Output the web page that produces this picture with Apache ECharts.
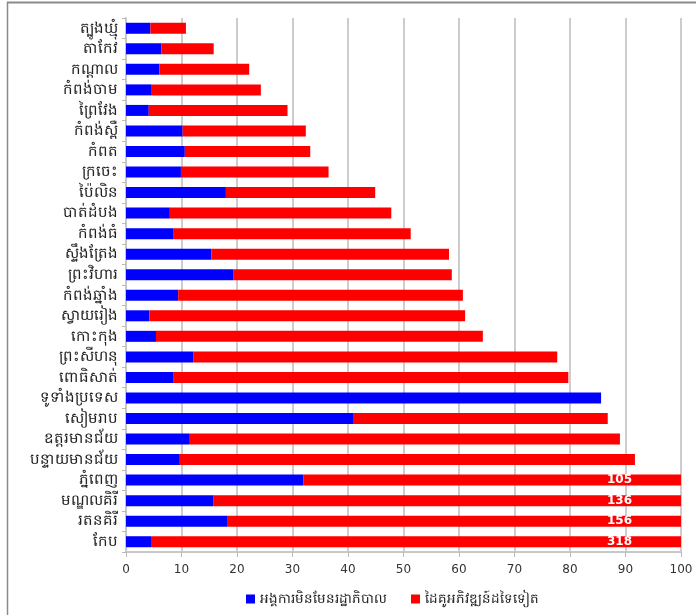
<!DOCTYPE html>
<html>
<head>
<meta charset="utf-8">
<script src="https://cdn.jsdelivr.net/npm/echarts@6/dist/echarts.min.js"></script>
<style>
html,body{margin:0;padding:0;background:#fff;}
#c{width:696px;height:615px;}
</style>
</head>
<body>
<div id="c"></div>
<script>
const categories = ['ត្បូងឃ្មុំ','តាកែវ','កណ្ដាល','កំពង់ចាម','ព្រៃវែង','កំពង់ស្ពឺ','កំពត','ក្រចេះ','ប៉ៃលិន','បាត់ដំបង','កំពង់ធំ','ស្ទឹងត្រែង','ព្រះវិហារ','កំពង់ឆ្នាំង','ស្វាយរៀង','កោះកុង','ព្រះសីហនុ','ពោធិសាត់','ទូទាំងប្រទេស','សៀមរាប','ឧត្ដរមានជ័យ','បន្ទាយមានជ័យ','ភ្នំពេញ','មណ្ឌលគិរី','រតនគិរី','កែប'];
const ngoValues = [4.4,6.4,6.0,4.5,4.1,10.2,10.6,9.9,18.0,7.9,8.6,15.4,19.3,9.4,4.2,5.4,12.1,8.6,85.6,40.9,11.5,9.7,32.0,15.8,18.2,4.5];
const otherValues = [6.4,9.4,16.2,19.8,25.0,22.2,22.6,26.6,26.9,39.9,42.7,42.8,39.4,51.3,56.9,58.9,65.6,71.1,0,45.9,77.5,82.0,73.0,120.2,137.8,313.5];
const totalLabels = [null,null,null,null,null,null,null,null,null,null,null,null,null,null,null,null,null,null,null,null,null,null,'105','136','156','318'];
const xTicks = {min:0,max:100,interval:10};
const seriesNames = ['អង្គការមិនមែនរដ្ឋាភិបាល','ដៃគូអភិវឌ្ឍន៍ដទៃទៀត'];

const chart = echarts.init(document.getElementById('c'), null, {renderer:'canvas'});
const fontFam = '"Noto Sans", "DejaVu Sans", sans-serif';
const redData = otherValues.map((v,i)=> totalLabels[i] ? {
  value: v,
  label: {show:true, position:'insideRight', distance:49, formatter: totalLabels[i], color:'#fff', fontWeight:'bold', fontSize:12, fontFamily:'"DejaVu Sans", sans-serif'}
} : v);

chart.setOption({
  animation:false,
  backgroundColor:'#fff',
  textStyle:{fontFamily:fontFam},
  graphic:[
    {type:'line', shape:{x1:7,y1:2.5,x2:696,y2:2.5}, style:{stroke:'#8a8a8a', lineWidth:2}},
    {type:'line', shape:{x1:7.5,y1:2,x2:7.5,y2:615}, style:{stroke:'#8a8a8a', lineWidth:1.5}}
  ],
  grid:{left:126, right:15, top:18, bottom:63, containLabel:false},
  xAxis:{
    type:'value', min:xTicks.min, max:xTicks.max, interval:xTicks.interval,
    axisLine:{show:true, lineStyle:{color:'#c8c8c8', width:2}},
    axisTick:{show:true, length:5, lineStyle:{color:'#b8b8b8'}},
    axisLabel:{color:'#333', fontSize:12, margin:12, fontFamily:'"DejaVu Sans", sans-serif'},
    splitLine:{show:true, lineStyle:{color:'#bdbdbd', width:1.5}}
  },
  yAxis:{
    type:'category', data:categories, inverse:true,
    axisLine:{show:true, lineStyle:{color:'#c8c8c8', width:2}},
    axisTick:{show:true, length:4, lineStyle:{color:'#b8b8b8'}},
    axisLabel:{color:'#222', fontSize:15, margin:8},
    splitLine:{show:false}
  },
  legend:{
    bottom:4, left:241, itemWidth:9, itemHeight:9, itemGap:24, itemStyle:{borderWidth:0}, icon:'rect',
    textStyle:{fontSize:13.5, color:'#222'},
    data:seriesNames
  },
  series:[
    {name:seriesNames[0], type:'bar', stack:'t', data:ngoValues, barWidth:11, itemStyle:{color:'#0000ff'}},
    {name:seriesNames[1], type:'bar', stack:'t', data:redData, barWidth:11, itemStyle:{color:'#ff0000'}}
  ]
});
</script>
</body>
</html>
